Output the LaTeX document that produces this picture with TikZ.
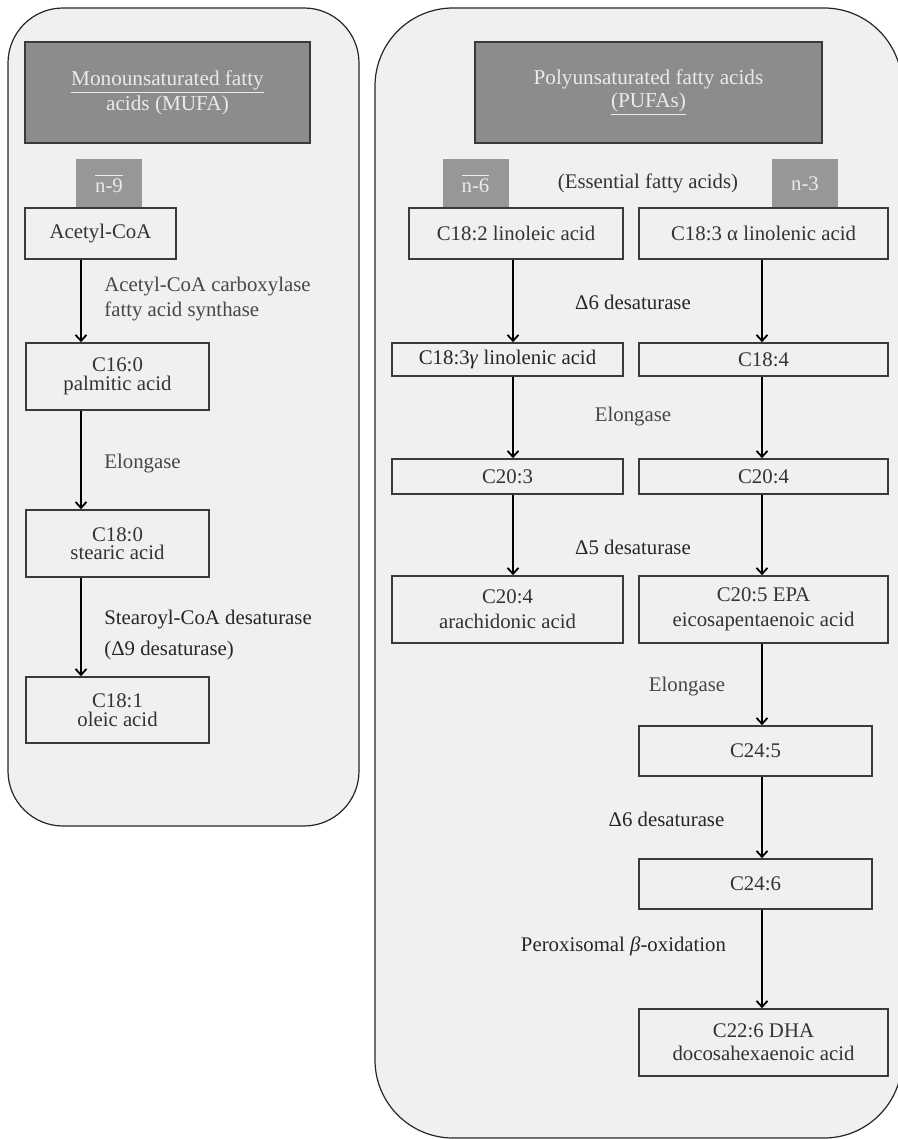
\documentclass[tikz,border=0pt]{standalone}
\usepackage{fontspec}
\setmainfont{Liberation Serif}
\usetikzlibrary{arrows.meta}
\definecolor{panel}{HTML}{EFF0EF}
\definecolor{head}{HTML}{8C8C8C}
\definecolor{nbox}{HTML}{979797}
\definecolor{edge}{HTML}{3A3A3A}
\definecolor{txt}{HTML}{333333}
\definecolor{headtxt}{HTML}{EAEAEA}
\tikzset{
 panelbox/.style={draw=black!85, line width=0.6pt, fill=panel},
 fabox/.style={draw=edge, line width=0.8pt, fill=panel, text=txt, align=center, inner sep=0pt, font=\fontsize{10.4}{10}\selectfont},
 headbox/.style={draw=edge, line width=0.6pt, fill=head, text=headtxt, align=center, inner sep=0pt, font=\fontsize{10.6}{11.5}\selectfont},
 nlabel/.style={fill=nbox, text=headtxt, inner sep=0pt, minimum width=33pt, minimum height=24.5pt, font=\fontsize{10.4}{12}\selectfont},
 enz/.style={text=black!85, inner sep=0pt, font=\fontsize{10.4}{12}\selectfont},
 enzgray/.style={enz, text=black!72},
 flow/.style={line width=0.9pt, -{Straight Barb[length=3pt,width=5.5pt]}},
}
\begin{document}
\begin{tikzpicture}[x=0.5pt,y=-0.5pt]
\useasboundingbox (0,0) rectangle (898,1139);
\begin{scope}
\clip (0,0) rectangle (898,1139);
\draw[panelbox, rounded corners=27.5pt] (8,8) rectangle (359,826);
\draw[panelbox, rounded corners=39pt] (375,8) rectangle (902,1138);
\end{scope}
% headers
\node[headbox, minimum width=142.5pt, minimum height=50.5pt] (hL) at (167.5,92.5) {\underline{Monounsaturated fatty}\\acids (MUFA)};
\node[headbox, minimum width=173.5pt, minimum height=50.5pt] (hR) at (648.5,92.5) {Polyunsaturated fatty acids\\\underline{(PUFAs)}};
% n labels
\node[nlabel] (n9) at (109,183.5) {$\overline{\mbox{n-9}}$};
\node[nlabel] (n6) at (475.5,183.5) {$\overline{\mbox{n-6}}$};
\node[nlabel] (n3) at (805,183.5) {n-3};
\node[enz, text=black!80] (ess) at (648,183) {(Essential fatty acids)};
% MUFA column
\node[fabox, minimum width=75.5pt, minimum height=25.5pt] (acoa) at (100.5,233.5) {Acetyl-CoA};
\node[fabox, minimum width=91.5pt, minimum height=33.5pt, font=\fontsize{10.4}{9.5}\selectfont] (c160) at (117.5,376.5) {C16:0\\palmitic acid};
\node[fabox, minimum width=91.5pt, minimum height=33.5pt, font=\fontsize{10.4}{9}\selectfont] (c180) at (117.5,543.5) {C18:0\\stearic acid};
\node[fabox, minimum width=91.5pt, minimum height=33pt, font=\fontsize{10.4}{9.5}\selectfont] (c181) at (117.5,710) {C18:1\\oleic acid};
% PUFA columns
\node[fabox, minimum width=107pt, minimum height=25.5pt] (c182) at (516,233.5) {C18:2 linoleic acid};
\node[fabox, minimum width=124.5pt, minimum height=25.5pt] (c183a) at (763.5,233.5) {C18:3 α linolenic acid};
\node[fabox, minimum width=115.5pt, minimum height=16.5pt, text=black!85] (c183g) at (507.5,359.5) {C18:3\textit{γ} linolenic acid};
\node[fabox, minimum width=124.5pt, minimum height=16.5pt] (c184) at (763.5,359.5) {C18:4};
\node[fabox, minimum width=115.5pt, minimum height=17.5pt] (c203) at (507.5,476.5) {C20:3};
\node[fabox, minimum width=124.5pt, minimum height=17.5pt] (c204) at (763.5,476.5) {C20:4};
\node[fabox, minimum width=115.5pt, minimum height=33.5pt, font=\fontsize{10.4}{12.5}\selectfont] (ara) at (507.5,609.5) {C20:4\\arachidonic acid};
\node[fabox, minimum width=124.5pt, minimum height=33.5pt, font=\fontsize{10.4}{12.5}\selectfont] (epa) at (763.5,609.5) {C20:5 EPA\\eicosapentaenoic acid};
\node[fabox, minimum width=116.5pt, minimum height=25pt] (c245) at (755.5,751) {C24:5};
\node[fabox, minimum width=116.5pt, minimum height=25pt] (c246) at (755.5,884) {C24:6};
\node[fabox, minimum width=124.5pt, minimum height=33.5pt, font=\fontsize{10.4}{11.5}\selectfont] (dha) at (763.5,1042.5) {C22:6 DHA\\docosahexaenoic acid};
% enzyme labels
\node[enzgray, anchor=west, align=left, font=\fontsize{10.4}{12.5}\selectfont] (l1) at (104,299.5) {Acetyl-CoA carboxylase\\fatty acid synthase};
\node[enzgray, anchor=west] (l2) at (104,464) {Elongase};
\node[enz, anchor=west, align=left, font=\fontsize{10.4}{15.5}\selectfont] (l3) at (104,634.5) {Stearoyl-CoA desaturase\\(Δ9 desaturase)};
\node[enz] (d6a) at (633,302) {Δ6 desaturase};
\node[enzgray] (el1) at (633,417) {Elongase};
\node[enz] (d5) at (633,547) {Δ5 desaturase};
\node[enzgray] (el2) at (687,687) {Elongase};
\node[enz] (d6b) at (666.5,819) {Δ6 desaturase};
\node[enz] (perox) at (623.5,946) {Peroxisomal \textit{β}-oxidation};
% column guides
\coordinate (colM) at (81,0);
\coordinate (colL) at (513,0);
\coordinate (colR) at (762,0);
% arrows
\draw[flow] (acoa.south -| colM) -- (c160.north -| colM);
\draw[flow] (c160.south -| colM) -- (c180.north -| colM);
\draw[flow] (c180.south -| colM) -- (c181.north -| colM);
\draw[flow] (c182.south -| colL) -- (c183g.north -| colL);
\draw[flow] (c183g.south -| colL) -- (c203.north -| colL);
\draw[flow] (c203.south -| colL) -- (ara.north -| colL);
\draw[flow] (c183a.south -| colR) -- (c184.north -| colR);
\draw[flow] (c184.south -| colR) -- (c204.north -| colR);
\draw[flow] (c204.south -| colR) -- (epa.north -| colR);
\draw[flow] (epa.south -| colR) -- (c245.north -| colR);
\draw[flow] (c245.south -| colR) -- (c246.north -| colR);
\draw[flow] (c246.south -| colR) -- (dha.north -| colR);
\end{tikzpicture}
\end{document}
